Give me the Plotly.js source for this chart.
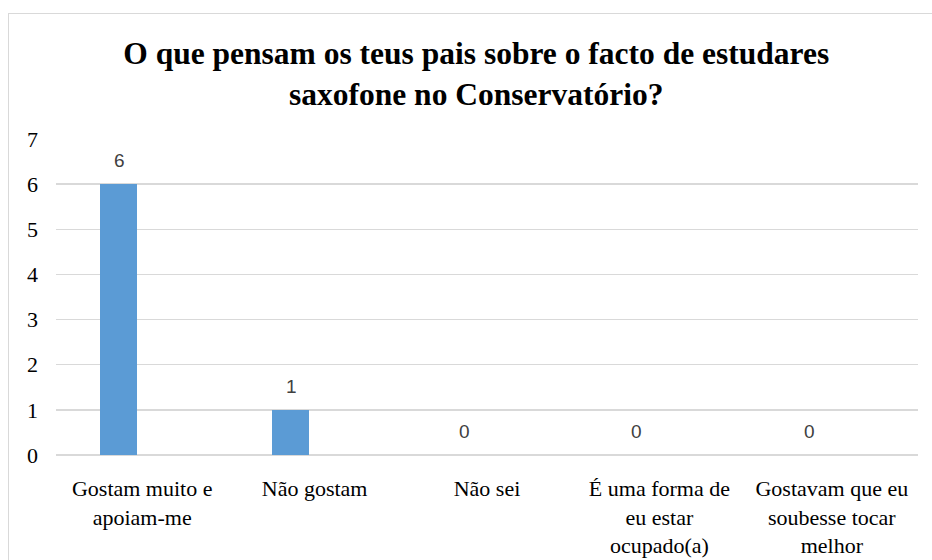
<!DOCTYPE html>
<html>
<head>
<meta charset="utf-8">
<script src="https://cdn.plot.ly/plotly-3.0.1.min.js"></script>
<style>
html,body{margin:0;padding:0;background:#fff;overflow:hidden;}
#chart{width:932px;height:560px;}
#frame{position:absolute;left:8px;top:13px;width:1000px;height:1000px;border:1.5px solid #d9d9d9;pointer-events:none;box-sizing:border-box;}
</style>
</head>
<body>
<div id="chart"></div>
<div id="frame"></div>
<script>
const categories = ["Gostam muito e apoiam-me", "Não gostam", "Não sei", "É uma forma de eu estar ocupado(a)", "Gostavam que eu soubesse tocar melhor"];
const tickLabels = ["Gostam muito e<br>apoiam-me", "Não gostam", "Não sei", "É uma forma de<br>eu estar<br>ocupado(a)", "Gostavam que eu<br>soubesse tocar<br>melhor"];
const values = [6, 1, 0, 0, 0];
const yTicks = [0, 1, 2, 3, 4, 5, 6, 7];
const titleText = "O que pensam os teus pais sobre o facto de estudares<br>saxofone no Conservatório?";

const SERIF = "Liberation Serif, Times New Roman, serif";
const barWidth = 0.215, barOffset = -0.245;

const trace = {
  type: "bar",
  x: categories,
  y: values,
  width: barWidth,
  offset: barOffset,
  marker: {color: "#5B9BD5"},
  hoverinfo: "skip"
};

const annotations = categories.map((c, i) => ({
  x: c, y: values[i], xref: "x", yref: "y",
  text: String(values[i]),
  showarrow: false,
  xshift: (barOffset + barWidth / 2) * 172.4 + 1,
  yanchor: "bottom",
  yshift: 11,
  font: {family: "Liberation Sans, Arial, sans-serif", size: 19, color: "#404040"}
}));

const layout = {
  width: 932, height: 560,
  margin: {l: 56, r: 14, t: 139, b: 105},
  paper_bgcolor: "#fff", plot_bgcolor: "#fff",
  showlegend: false,
  font: {family: SERIF},
  title: {
    text: "<b>" + titleText + "</b>",
    x: 0.511, xref: "container", xanchor: "center",
    y: 0.885, yref: "container", yanchor: "top",
    font: {family: SERIF, size: 31.5, color: "#000"}
  },
  xaxis: {
    type: "category",
    tickvals: categories, ticktext: tickLabels,
    showgrid: false, showline: false, zeroline: false,
    ticks: "", ticklabelstandoff: 18,
    tickfont: {family: SERIF, size: 22, color: "#000"},
    range: [-0.5, 4.5]
  },
  yaxis: {
    range: [0, 7], tickvals: yTicks,
    showgrid: true, gridcolor: "#d9d9d9", gridwidth: 1.3,
    zeroline: true, zerolinecolor: "#d9d9d9", zerolinewidth: 1.3,
    showline: false, ticks: "", ticklabelstandoff: 17,
    tickfont: {family: SERIF, size: 22, color: "#000"}
  },
  annotations: annotations,
  bargap: 0
};

Plotly.newPlot("chart", [trace], layout, {displayModeBar: false, staticPlot: true});
</script>
</body>
</html>
